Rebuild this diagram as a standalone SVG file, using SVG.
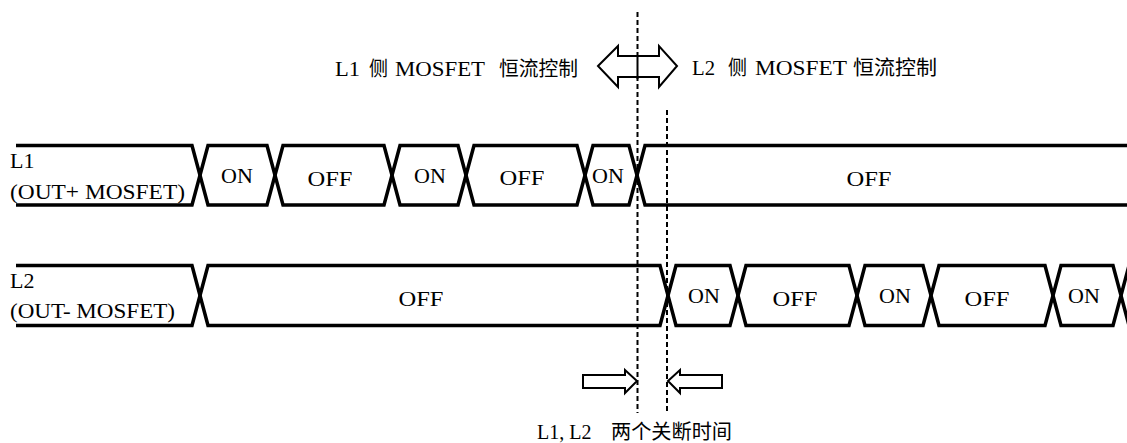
<svg xmlns="http://www.w3.org/2000/svg" width="1127" height="443" viewBox="0 0 1127 443">
<style>
.wave{fill:none;stroke:#000;stroke-width:3.5;stroke-linejoin:miter;stroke-miterlimit:10}
.dash{stroke:#000;stroke-width:2;stroke-dasharray:5,3;fill:none}
.blk{fill:#fff;stroke:#000;stroke-width:2;stroke-linejoin:miter}
.t{font-family:"Liberation Serif","Noto Sans CJK SC",serif;fill:#000}
.c{font-family:"Noto Sans CJK SC",sans-serif;fill:#000;font-size:20px}
.st{font-size:22px;text-anchor:middle}
.lb{font-size:22px}
.hd{font-size:20px}
</style>
<rect width="1127" height="443" fill="#fff"/>
<g id="row-L1">
<path class="wave" d="M16,145.5 H192 L200,175.25 L192,205 H16"/>
<path class="wave" d="M200,175.25 L208,145.5 H267 L275,175.25 L267,205 H208 Z"/>
<path class="wave" d="M275,175.25 L283,145.5 H384 L392,175.25 L384,205 H283 Z"/>
<path class="wave" d="M392,175.25 L400,145.5 H458 L466,175.25 L458,205 H400 Z"/>
<path class="wave" d="M466,175.25 L474,145.5 H577 L585,175.25 L577,205 H474 Z"/>
<path class="wave" d="M585,175.25 L593,145.5 H629 L637,175.25 L629,205 H593 Z"/>
<path class="wave" d="M1130,145.5 H645 L637,175.25 L645,205 H1130"/>
<text class="t lb" x="10" y="168">L1</text>
<text class="t lb" x="10" y="199" textLength="175" lengthAdjust="spacingAndGlyphs">(OUT+ MOSFET)</text>
<text class="t st" x="237" y="183">ON</text>
<text class="t st" x="330" y="186" textLength="45" lengthAdjust="spacingAndGlyphs">OFF</text>
<text class="t st" x="430" y="183">ON</text>
<text class="t st" x="522" y="185" textLength="45" lengthAdjust="spacingAndGlyphs">OFF</text>
<text class="t st" x="608" y="183">ON</text>
<text class="t st" x="869" y="186" textLength="45" lengthAdjust="spacingAndGlyphs">OFF</text>
</g>
<g id="row-L2">
<path class="wave" d="M16,265.5 H192 L200,295.5 L192,325.5 H16"/>
<path class="wave" d="M200,295.5 L208,265.5 H660 L668,295.5 L660,325.5 H208 Z"/>
<path class="wave" d="M668,295.5 L676,265.5 H730 L738,295.5 L730,325.5 H676 Z"/>
<path class="wave" d="M738,295.5 L746,265.5 H849 L857,295.5 L849,325.5 H746 Z"/>
<path class="wave" d="M857,295.5 L865,265.5 H923 L931,295.5 L923,325.5 H865 Z"/>
<path class="wave" d="M931,295.5 L939,265.5 H1045 L1053,295.5 L1045,325.5 H939 Z"/>
<path class="wave" d="M1053,295.5 L1061,265.5 H1113 L1121,295.5 L1113,325.5 H1061 Z"/>
<path class="wave" d="M1121,295.5 L1129,265.5 H1140 M1121,295.5 L1129,325.5 H1140"/>
<text class="t lb" x="10" y="288">L2</text>
<text class="t lb" x="10" y="318" textLength="165" lengthAdjust="spacingAndGlyphs">(OUT- MOSFET)</text>
<text class="t st" x="421" y="306" textLength="45" lengthAdjust="spacingAndGlyphs">OFF</text>
<text class="t st" x="704" y="303">ON</text>
<text class="t st" x="795" y="306" textLength="45" lengthAdjust="spacingAndGlyphs">OFF</text>
<text class="t st" x="895" y="303">ON</text>
<text class="t st" x="987" y="306" textLength="45" lengthAdjust="spacingAndGlyphs">OFF</text>
<text class="t st" x="1084" y="303">ON</text>
</g>
<g id="connectors">
<line class="dash" x1="637.5" y1="12" x2="637.5" y2="413"/>
<line class="dash" x1="667" y1="110" x2="667" y2="413"/>
</g>
<g id="control-arrow">
<polygon class="blk" points="598,66 618,46 618,56 659,56 659,46 677,66 659,87 659,77 618,77 618,87"/>
<line x1="637.5" y1="56" x2="637.5" y2="79" stroke="#000" stroke-width="2"/>
<g id="label-L1-control">
<text class="t hd" x="335" y="76" textLength="25" lengthAdjust="spacingAndGlyphs">L1</text>
<text class="c" x="369" y="76" textLength="19" lengthAdjust="spacingAndGlyphs">侧</text>
<text class="t hd" x="395" y="76" textLength="90" lengthAdjust="spacingAndGlyphs">MOSFET</text>
<text class="c" x="499" y="76" textLength="79" lengthAdjust="spacingAndGlyphs">恒流控制</text>
</g>
<g id="label-L2-control">
<text class="t hd" x="692" y="75" textLength="23" lengthAdjust="spacingAndGlyphs">L2</text>
<text class="c" x="728" y="75" textLength="19" lengthAdjust="spacingAndGlyphs">侧</text>
<text class="t hd" x="755" y="75" textLength="92" lengthAdjust="spacingAndGlyphs">MOSFET</text>
<text class="c" x="853" y="75" textLength="84" lengthAdjust="spacingAndGlyphs">恒流控制</text>
</g>
</g>
<g id="deadtime">
<polygon class="blk" points="583,375 625,375 625,370 637,381 625,393 625,388 583,388"/>
<polygon class="blk" points="668,381 680,370 680,375 722,375 722,388 680,388 680,393"/>
<text class="t hd" x="537" y="439">L1, L2</text>
<text class="c" x="611" y="439" textLength="121" lengthAdjust="spacingAndGlyphs">两个关断时间</text>
</g>
</svg>
